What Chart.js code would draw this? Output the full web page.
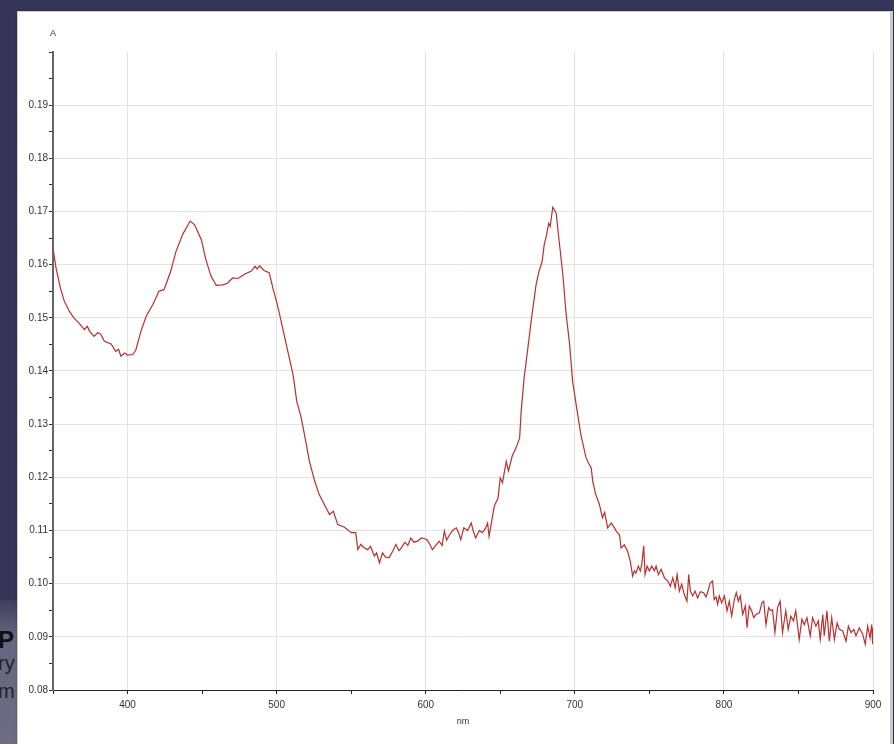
<!DOCTYPE html>
<html>
<head>
<meta charset="utf-8">
<script src="https://cdn.jsdelivr.net/npm/chart.js@4.4.1/dist/chart.umd.min.js"></script>
<style>
  html, body { margin: 0; padding: 0; }
  body {
    width: 894px; height: 744px; overflow: hidden; position: relative;
    background: #35355a;
    font-family: 'Liberation Sans', Arial, sans-serif;
  }
  .slide-strip {
    position: absolute; left: 0; top: 600px; width: 30px; height: 144px;
    background: linear-gradient(#3d3d5e, #66667e 25%, #6c6c82);
  }
  .slide-text { position: absolute; left: -2px; color: #111; white-space: nowrap; }
  .panel {
    position: absolute; left: 17px; top: 11px; width: 872px; height: 740px;
    background: #fff;
    border: 1px solid #cfcfcf;
    border-right: 3px solid #c9c9c9;
    box-shadow: 0 0 2px rgba(0,0,0,0.3);
  }
  .chart-box { position: absolute; left: 1px; top: 0; width: 872px; height: 733px; }
</style>
</head>
<body>
<div class="slide-strip"></div>
<div class="slide-text" style="top:626px;font-size:24px;font-weight:bold;">P</div>
<div class="slide-text" style="top:652px;font-size:20px;color:#222;">ry</div>
<div class="slide-text" style="top:680px;font-size:20px;color:#222;">m</div>
<div class="panel">
  <div class="chart-box"><canvas id="spectrum"></canvas></div>
</div>
<script>
const wavelengths = [
  350, 352, 355, 357.6, 361, 364, 367.5, 371, 373, 374.5, 377.5, 380, 382, 384.5, 389, 392, 394, 395.5, 398, 400,
  403.5, 405.5, 409, 412.5, 417, 421, 424.5, 429, 432.5, 437, 442, 445, 449.5, 452.5, 456, 459.5, 464, 467, 470.5, 474,
  478.5, 483, 485.5, 487, 488.5, 491.5, 495, 497.5, 500.5, 504, 507.5, 511, 513.5, 516.5, 519.5, 522, 525.5, 528.5, 532, 535.5,
  538, 541, 545.5, 550, 553, 554.5, 556.5, 558.5, 561, 563, 565.5, 567, 569, 571, 573, 575.5, 578, 580, 582, 583.5,
  586, 588, 590, 592, 594.5, 597, 599, 601, 602.5, 604.5, 607, 609, 611, 612.5, 614, 616, 618, 620.5, 622, 623.5,
  625.5, 628, 630.5, 632, 633.5, 636, 638, 640, 641.5, 642.5, 645, 646, 648.5, 650, 651.5, 654, 655.5, 658, 660.5, 663,
  664, 666, 668.5, 671, 674, 676, 678, 679.5, 681, 682.5, 683.5, 685.2, 686.5, 687.5, 689.5, 692, 694, 696.5, 698.5, 701,
  704, 707.5, 709.5, 711, 712, 714, 716.5, 718.5, 720, 722, 724.5, 726.5, 728, 730, 731, 733.2, 735.4, 737.2, 738.8, 739.9,
  741, 742.6, 743.9, 744.9, 746.2, 747.1, 748.5, 750, 751.6, 753.4, 754.5, 756.1, 757.9, 760.1, 762.4, 764.1, 765.7, 767.3, 768.6, 770.1,
  771.7, 773.4, 775.2, 776.4, 777.5, 779.1, 780.6, 782.4, 784.2, 786.4, 788, 789.5, 790.8, 792.4, 793.5, 794.7, 795.8, 796.9, 798.5, 800.3,
  802.1, 803.6, 805.2, 807, 808.3, 809.7, 811, 812.6, 814.4, 815.5, 817, 818.6, 820, 821.5, 823.8, 825.5, 826.7, 828.2, 830, 831.5,
  832.6, 834.2, 836, 837.7, 839.3, 841.5, 843.1, 844.9, 846.7, 848.2, 850.5, 852.3, 853.9, 855.7, 857.9, 859.5, 861.7, 863.3, 864.6, 866.3,
  867.3, 869.1, 870.7, 872.3, 874.1, 875.9, 877.4, 879.7, 881.9, 883.5, 885.3, 887.1, 888.6, 890.8, 893.1, 894.8, 896.4, 898, 899.1, 899.8,
  900
];
const absorbance = [
  0.1631, 0.1594, 0.1556, 0.1531, 0.1512, 0.1500, 0.1490, 0.1478, 0.1484, 0.1475, 0.1465, 0.1472, 0.1469, 0.1456, 0.1451, 0.1437, 0.1441, 0.1428, 0.1434, 0.1430,
  0.1431, 0.1439, 0.1475, 0.1503, 0.1525, 0.1550, 0.1553, 0.1588, 0.1625, 0.1657, 0.1682, 0.1675, 0.1647, 0.1610, 0.1578, 0.1561, 0.1562, 0.1565, 0.1575, 0.1574,
  0.1582, 0.1588, 0.1597, 0.1592, 0.1598, 0.1589, 0.1585, 0.1556, 0.1525, 0.1481, 0.1437, 0.1393, 0.1343, 0.1312, 0.1268, 0.1230, 0.1193, 0.1168, 0.1149, 0.1130,
  0.1136, 0.1111, 0.1106, 0.1096, 0.1096, 0.1064, 0.1074, 0.1068, 0.1064, 0.1070, 0.1052, 0.1058, 0.1039, 0.1058, 0.1050, 0.1049, 0.1062, 0.1074, 0.1062, 0.1067,
  0.1078, 0.1072, 0.1086, 0.1078, 0.1080, 0.1086, 0.1085, 0.1082, 0.1075, 0.1064, 0.1073, 0.1080, 0.1072, 0.1099, 0.1082, 0.1092, 0.1100, 0.1105, 0.1096, 0.1083,
  0.1105, 0.1100, 0.1114, 0.1098, 0.1086, 0.1100, 0.1096, 0.1104, 0.1114, 0.1089, 0.1130, 0.1146, 0.1161, 0.1199, 0.1190, 0.1230, 0.1212, 0.1240, 0.1255, 0.1274,
  0.1324, 0.1387, 0.1443, 0.1500, 0.1562, 0.1588, 0.1605, 0.1638, 0.1655, 0.1678, 0.1672, 0.1708, 0.1702, 0.1697, 0.1644, 0.1581, 0.1512, 0.1450, 0.1381, 0.1335,
  0.1281, 0.1237, 0.1225, 0.1218, 0.1193, 0.1168, 0.1149, 0.1124, 0.1134, 0.1105, 0.1114, 0.1105, 0.1098, 0.1092, 0.1067, 0.1073, 0.1061, 0.1042, 0.1014, 0.1024,
  0.1020, 0.1033, 0.1024, 0.1036, 0.1071, 0.1017, 0.1033, 0.1024, 0.1033, 0.1024, 0.1033, 0.1017, 0.1027, 0.1011, 0.1005, 0.0995, 0.1011, 0.0992, 0.1017, 0.0986,
  0.0999, 0.0980, 0.0967, 0.1017, 0.0986, 0.0977, 0.0986, 0.0973, 0.0985, 0.0983, 0.0975, 0.0988, 0.1001, 0.1005, 0.0970, 0.0975, 0.0961, 0.0977, 0.0964, 0.0977,
  0.0949, 0.0967, 0.0939, 0.0970, 0.0983, 0.0967, 0.0977, 0.0942, 0.0958, 0.0917, 0.0958, 0.0949, 0.0936, 0.0942, 0.0945, 0.0964, 0.0967, 0.0923, 0.0955, 0.0949,
  0.0951, 0.0908, 0.0955, 0.0967, 0.0908, 0.0949, 0.0914, 0.0939, 0.0930, 0.0949, 0.0895, 0.0933, 0.0923, 0.0936, 0.0902, 0.0936, 0.0920, 0.0930, 0.0895, 0.0942,
  0.0902, 0.0949, 0.0892, 0.0936, 0.0895, 0.0926, 0.0914, 0.0911, 0.0892, 0.0920, 0.0908, 0.0914, 0.0902, 0.0917, 0.0905, 0.0886, 0.0920, 0.0898, 0.0923, 0.0886,
  0.0917
];
const xTickLabels = [400, 500, 600, 700, 800, 900];
const yTickLabels = [0.08, 0.09, 0.10, 0.11, 0.12, 0.13, 0.14, 0.15, 0.16, 0.17, 0.18, 0.19];

const GRID = '#e3e3e3';
const TICK_FONT = { family: "'Liberation Sans', Arial, sans-serif", size: 10 };

const isLabelY = v => yTickLabels.some(t => Math.abs(t - v) < 1e-6);
const isLabelX = v => xTickLabels.includes(Math.round(v));

// "A" over the y axis
const axisUnitPlugin = {
  id: 'axisUnit',
  afterDraw(chart) {
    const { ctx, chartArea } = chart;
    ctx.save();
    ctx.fillStyle = '#333';
    ctx.font = "9px 'Liberation Sans', Arial, sans-serif";
    ctx.textAlign = 'center';
    ctx.textBaseline = 'middle';
    ctx.fillText('A', chartArea.left, chartArea.top - 18);
    ctx.restore();
  }
};

new Chart(document.getElementById('spectrum'), {
  type: 'line',
  data: {
    datasets: [{
      data: wavelengths.map((w, i) => ({ x: w, y: absorbance[i] })),
      borderColor: '#b8312f',
      borderWidth: 1.2,
      pointRadius: 0,
      tension: 0,
      fill: false,
    }]
  },
  options: {
    responsive: true,
    maintainAspectRatio: false,
    animation: false,
    layout: { padding: { top: 40, right: 18, bottom: 10, left: 0 } },
    plugins: { legend: { display: false }, tooltip: { enabled: false } },
    scales: {
      x: {
        type: 'linear',
        min: 350, max: 900,
        border: { color: '#222', width: 1 },
        grid: {
          color: c => (c.tick && isLabelX(c.tick.value) ? GRID : 'transparent'),
          tickColor: '#222',
          tickLength: 4,
        },
        ticks: {
          stepSize: 50,
          autoSkip: false,
          maxRotation: 0,
          padding: 5,
          color: '#333',
          font: TICK_FONT,
          callback: v => (isLabelX(v) ? String(v) : ''),
        },
        title: {
          display: true, text: 'nm', color: '#333',
          font: { family: "'Liberation Sans', Arial, sans-serif", size: 9 },
          padding: { top: 0, bottom: 8 },
        },
        afterFit: s => { s.height = 45; },
      },
      y: {
        type: 'linear',
        min: 0.08, max: 0.2,
        border: { color: '#666', width: 2 },
        grid: {
          color: c => (c.tick && isLabelY(c.tick.value) ? GRID : 'transparent'),
          tickColor: '#333',
          tickLength: 4,
        },
        ticks: {
          stepSize: 0.005,
          autoSkip: false,
          padding: 1,
          color: '#333',
          font: TICK_FONT,
          callback: v => (isLabelY(v) ? v.toFixed(2) : ''),
        },
        afterFit: s => { s.width = 34; },
      }
    }
  },
  plugins: [axisUnitPlugin]
});
</script>
</body>
</html>
